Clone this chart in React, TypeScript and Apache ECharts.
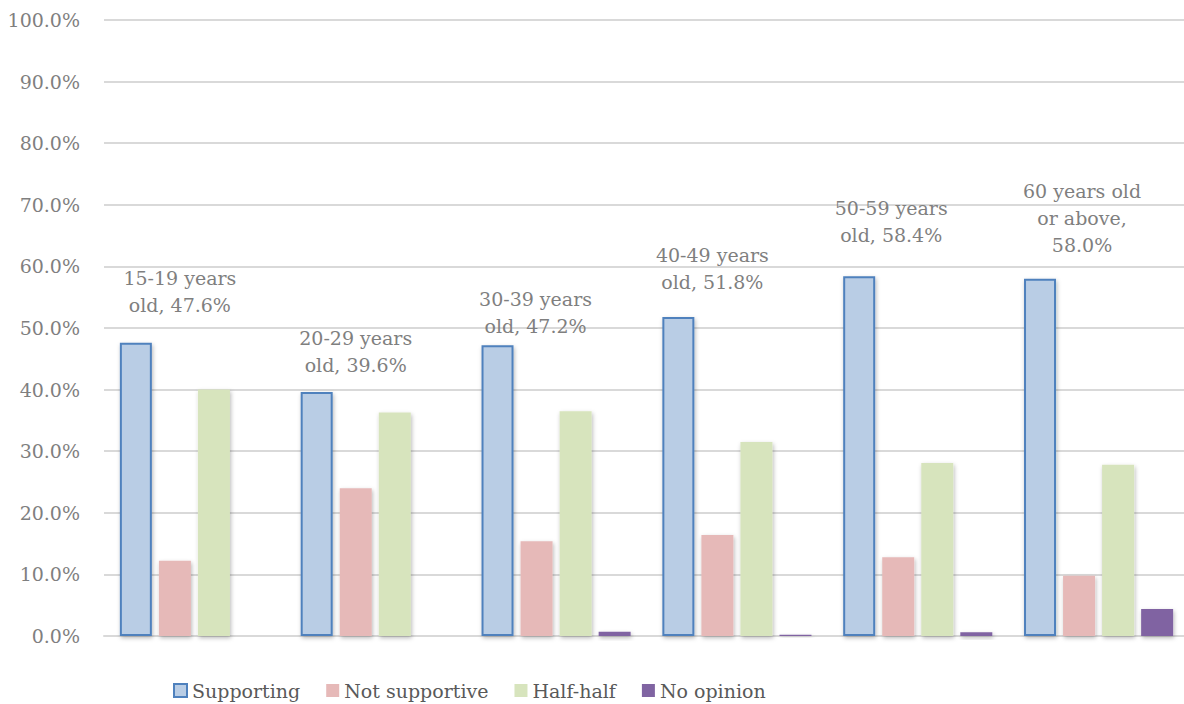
import React, { useEffect, useRef } from "react";
import * as echarts from "echarts";

const categories = [
  "15-19 years old",
  "20-29 years old",
  "30-39 years old",
  "40-49 years old",
  "50-59 years old",
  "60 years old or above",
];
const labelPrefixes = [
  "15-19 years\nold, ",
  "20-29 years\nold, ",
  "30-39 years\nold, ",
  "40-49 years\nold, ",
  "50-59 years\nold, ",
  "60 years old\nor above,\n",
];
const supporting = [47.6, 39.6, 47.2, 51.8, 58.4, 58.0];
const notSupportive = [12.2, 24.0, 15.4, 16.4, 12.8, 9.8];
const halfHalf = [40.0, 36.3, 36.5, 31.5, 28.1, 27.8];
const noOpinion = [0, 0, 0.7, 0.2, 0.6, 4.4];
const yTicks = [0, 10, 20, 30, 40, 50, 60, 70, 80, 90, 100];

const labelOffsets: [number, number][] = [
  [44, -24],
  [39, -14],
  [38, -6],
  [34, -21],
  [32, -28],
  [42, -20],
];

const FONT = "DejaVu Serif";
const FS = 19;
const shadow = {
  shadowColor: "rgba(0,0,0,0.28)",
  shadowBlur: 4,
  shadowOffsetX: 1,
  shadowOffsetY: 2,
};

export default function App() {
  const ref = useRef<HTMLDivElement>(null);
  useEffect(() => {
    if (!ref.current) return;
    const chart = echarts.init(ref.current, undefined, { renderer: "svg" });
    const barWidth = 32;
    const barGap = "22%";
    chart.setOption({
      animation: false,
      backgroundColor: "#ffffff",
      textStyle: { fontFamily: FONT },
      grid: {
        left: 104,
        top: 20,
        width: 1085,
        height: 616,
        containLabel: false,
        outerBoundsMode: "none",
      },
      legend: {
        left: 168,
        top: 676,
        itemWidth: 13,
        itemHeight: 13,
        itemGap: 26,
        icon: "rect",
        textStyle: { fontFamily: FONT, fontSize: FS, color: "#595959" },
        data: ["Supporting", "Not supportive", "Half-half", "No opinion"],
      },
      xAxis: {
        type: "category",
        data: categories,
        axisLabel: { show: false },
        axisTick: { show: false },
        axisLine: { show: true, lineStyle: { color: "#D9D9D9", width: 2 } },
      },
      yAxis: {
        type: "value",
        min: yTicks[0],
        max: yTicks[yTicks.length - 1],
        interval: 10,
        axisLine: { show: false },
        axisTick: { show: false },
        axisLabel: {
          margin: 24,
          fontFamily: FONT,
          fontSize: FS,
          color: "#7F7F7F",
          formatter: (v: number) => v.toFixed(1) + "%",
        },
        splitLine: { lineStyle: { color: "#D9D9D9", width: 2 } },
      },
      series: [
        {
          name: "Supporting",
          type: "bar",
          barWidth,
          barGap,
          data: supporting.map((v, i) => ({
            value: v,
            label: { offset: labelOffsets[i] },
          })),
          itemStyle: { color: "#B9CDE5", borderColor: "#4F81BD", borderWidth: 2, ...shadow },
          label: {
            show: true,
            position: "top",
            distance: 0,
            fontFamily: FONT,
            fontSize: FS,
            lineHeight: 27,
            color: "#7F7F7F",
            align: "center",
            formatter: (p: any) => labelPrefixes[p.dataIndex] + Number(p.value).toFixed(1) + "%",
          },
        },
        {
          name: "Not supportive",
          type: "bar",
          barWidth,
          barGap,
          data: notSupportive,
          itemStyle: { color: "#E6B9B8", ...shadow },
        },
        {
          name: "Half-half",
          type: "bar",
          barWidth,
          barGap,
          data: halfHalf,
          itemStyle: { color: "#D7E4BD", ...shadow },
        },
        {
          name: "No opinion",
          type: "bar",
          barWidth,
          barGap,
          data: noOpinion,
          itemStyle: { color: "#8064A2", ...shadow },
        },
      ],
    });
    return () => chart.dispose();
  }, []);
  return (
    <div
      ref={ref}
      style={{ position: "absolute", left: 0, top: 0, width: 1184, height: 704 }}
    />
  );
}
